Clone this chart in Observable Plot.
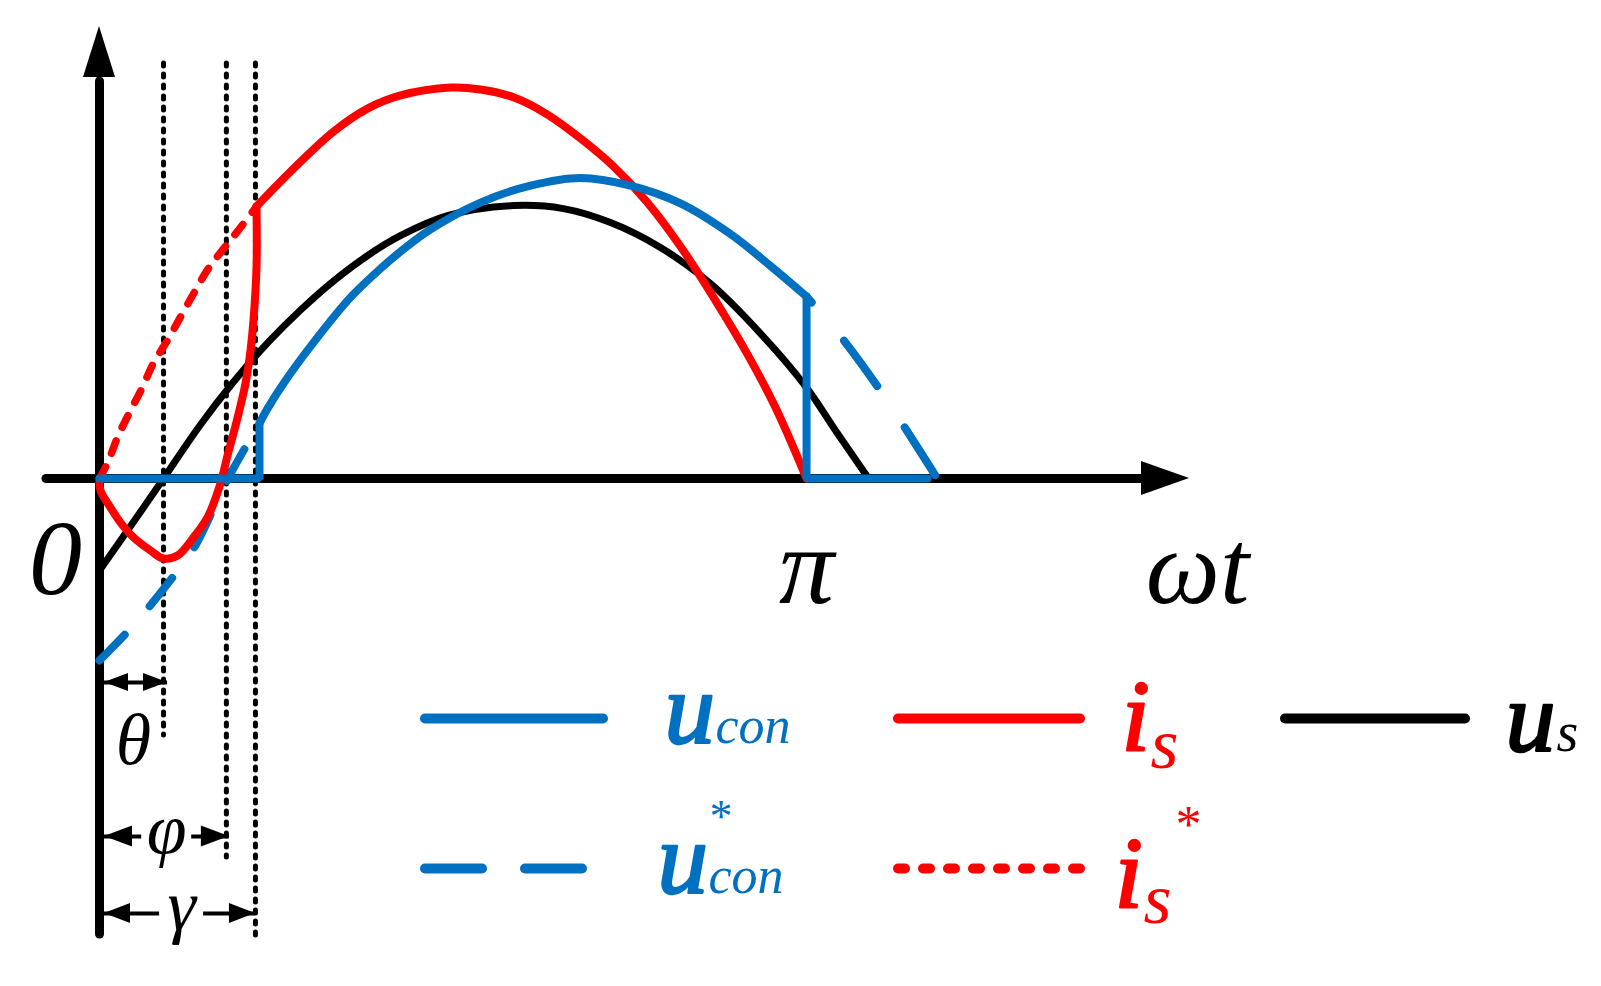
<!DOCTYPE html>
<html><head><meta charset="utf-8">
<script src="https://cdn.jsdelivr.net/npm/d3@7"></script>
<script src="https://cdn.jsdelivr.net/npm/@observablehq/plot@0.6"></script>
<style>html,body{margin:0;padding:0;background:#fff;overflow:hidden}</style>
</head><body><div id="chart"></div>
<script>
// ---- values: [ωt in degrees, amplitude (u_s peak = 1)] ----
const us = [[0,-0.336],[8.2,-0.168],[16.3,0],[25.7,0.196],[34.1,0.352],[42.8,0.495],[51.2,0.615],[59.6,0.721],[68.2,0.813],[76.6,0.886],[88.6,0.959],[105.4,0.996],[118.1,0.985],[130.1,0.934],[142.8,0.843],[155.5,0.712],[168.3,0.529],[180,0.332],[187.9,0.164],[195.8,0]];
const isLow = [[0,0],[0.25,-0.044],[2.8,-0.106],[5.35,-0.161],[8.66,-0.215],[12.98,-0.263],[16.29,-0.292],[19.86,-0.281],[23.93,-0.215],[27.49,-0.142],[30.8,-0.018],[32.59,0.084],[34.11,0.164],[35.9,0.266],[37.17,0.347],[38.44,0.467],[39.2,0.577],[39.97,0.770],[39.97,0.993]];
const isArc = [[39.97,0.993],[48.63,1.120],[59.57,1.266],[68.23,1.350],[76.63,1.398],[89.36,1.427],[97.0,1.420],[105.4,1.391],[114.05,1.328],[122.45,1.241],[130.85,1.139],[139.51,1.007],[147.91,0.847],[156.31,0.661],[164.97,0.453],[172.1,0.259],[180,0]];
const isRef = [[0,0],[2.0,0.055],[4.8,0.157],[7.9,0.248],[10.9,0.332],[13.7,0.420],[17.6,0.511],[21.1,0.602],[24.4,0.686],[27.7,0.766],[31.6,0.839],[35.9,0.916],[39.97,0.993]];
const uconArc = [[40.73,0.201],[42.77,0.255],[46.84,0.347],[55.5,0.515],[63.9,0.661],[71.54,0.766],[76.63,0.828],[84.27,0.909],[97.0,1.007],[109.73,1.069],[122.45,1.097],[135.18,1.069],[147.91,1.004],[160.64,0.892],[170.8,0.776],[180,0.664]];
const uconFlatL = [[0,0],[40.73,0],[40.73,0.201]];
const uconFlatR = [[180,0.664],[180,0],[210.8,0]];
const uconRefL = [[0,-0.664],[7.4,-0.555],[12.5,-0.471],[19.9,-0.336],[24.4,-0.245],[30.0,-0.080],[33.4,0.018],[37.4,0.120],[40.73,0.201]];
const uconRefR = [[180,0.664],[189.1,0.511],[198.8,0.321],[204.7,0.193],[213.3,0]];
// angles θ, φ, γ (degrees)
const angleNames = ["θ","φ","γ"];
const angleDeg = [16.3, 32.3, 39.7];
// tick labels
const tickLabels = ["0","π"];
const tickValues = [0, 180];
const axisTitle = "ωt";

// ---- layout (pixel geometry of the page) ----
const W = 1601, H = 986, X0 = 99, KX = 3.928, Y0 = 478, KY = 274;
const dx = p => p / KX, dy = p => p / KY;
const BLUE = "#0070C0", RED = "#FF0000";
const FONT = "'Liberation Serif','Times New Roman',serif";
const xA = d => d[0], yA = d => d[1];

// axis extent
const xAxis = {from: dx(46 - X0), base: dx(1141 - X0), tip: dx(1189 - X0), half: dy(17)};
const yAxis = {from: -dy(934 - Y0), base: dy(Y0 - 77), tip: dy(Y0 - 26), half: dx(16)};

// guides (dotted verticals) and dimension arrows
const guideTop = dy(Y0 - 63);
const guideBottom = [-dy(735 - Y0), -dy(857 - Y0), -dy(937 - Y0)];
const arrowY = [-dy(682 - Y0), -dy(836 - Y0), -dy(913 - Y0)];
const tipPad = [dx(4), dx(3), dx(0)];
const gapHalf = [0, dx(25), dx(22)];
const labelX = [8.66, 17.1, 20.9];
const labelY = [-dy(763 - Y0), -dy(852 - Y0), -dy(929 - Y0)];
const leftTip = dx(5);

const guides = angleDeg.map((a, i) => ({x: a, y1: guideTop, y2: guideBottom[i]}));
const dimSegs = [];
const heads = [];
const headL = [dx(24), dx(28), dx(26)], headH = [dy(9), dy(10.5), dy(10)];
angleDeg.forEach((a, i) => {
  const y = arrowY[i], r = a + tipPad[i];
  if (gapHalf[i] === 0) dimSegs.push({x1: leftTip, x2: r, y});
  else { dimSegs.push({x1: leftTip, x2: labelX[i] - gapHalf[i], y}); dimSegs.push({x1: labelX[i] + gapHalf[i], x2: r, y}); }
  heads.push({id: "l"+i, x: leftTip + headL[i], y1: y - headH[i], y2: y + headH[i]});
  heads.push({id: "l"+i, x: leftTip, y1: y, y2: y});
  heads.push({id: "r"+i, x: r - headL[i], y1: y - headH[i], y2: y + headH[i]});
  heads.push({id: "r"+i, x: r, y1: y, y2: y});
});
heads.push({id: "xa", x: xAxis.base, y1: -xAxis.half, y2: xAxis.half});
heads.push({id: "xa", x: xAxis.tip, y1: 0, y2: 0});
const yHead = [{y: yAxis.base, x1: -yAxis.half, x2: yAxis.half}, {y: yAxis.tip, x1: 0, x2: 0}];

// legend geometry
const legendRowY = [-dy(718 - Y0), -dy(868 - Y0)];
const legendLines = [
  {x1: dx(425 - X0), x2: dx(603 - X0), y: legendRowY[0], stroke: BLUE, dash: null},
  {x1: dx(898 - X0), x2: dx(1080 - X0), y: legendRowY[0], stroke: RED, dash: null},
  {x1: dx(1285 - X0), x2: dx(1465 - X0), y: legendRowY[0], stroke: "black", dash: null},
  {x1: dx(425 - X0), x2: dx(582 - X0), y: legendRowY[1], stroke: BLUE, dash: "57,43"},
  {x1: dx(898 - X0), x2: dx(1080 - X0), y: legendRowY[1], stroke: RED, dash: "7,18"}
];
// legend symbols: base letter, subscript, superscript (pixel placement)
const legendLabels = [
  {id: "§1", color: BLUE, parts: [{t: "u", px: 664, py: 742, size: 101, heavy: true}, {t: "con", px: 715, py: 742, size: 52}]},
  {id: "§2", color: BLUE, parts: [{t: "u", px: 657, py: 892, size: 101, heavy: true}, {t: "con", px: 708, py: 892, size: 52}, {t: "*", px: 709, py: 831, size: 46, style: "normal"}]},
  {id: "§3", color: RED, parts: [{t: "i", px: 1121, py: 750, size: 102, heavy: true}, {t: "s", px: 1150, py: 767, size: 72}]},
  {id: "§4", color: RED, parts: [{t: "i", px: 1114, py: 907, size: 102, heavy: true}, {t: "s", px: 1143, py: 922, size: 72}, {t: "*", px: 1175, py: 841, size: 52, style: "normal"}]},
  {id: "§5", color: "black", parts: [{t: "u", px: 1505, py: 750, size: 100, heavy: true}, {t: "s", px: 1556, py: 750, size: 56}]}
];

const plain = [
  {t: tickLabels[0], x: tickValues[0] - dx(44), y: -dy(593 - Y0), size: 106},
  {t: tickLabels[1], x: tickValues[1], y: -dy(602 - Y0), size: 110},
  {t: axisTitle, x: dx(1197 - X0), y: -dy(602 - Y0), size: 105},
  ...angleNames.map((n, i) => ({t: n, x: labelX[i], y: labelY[i], size: 72}))
];

const textMarks = [
  ...plain.map(d => Plot.text([d], {x: "x", y: "y", text: "t", fontSize: d.size, fontFamily: FONT, fontStyle: "italic", fill: "black", textAnchor: "middle", lineAnchor: "bottom"})),
  ...legendLabels.map(d => Plot.text([d], {
    x: () => dx(d.parts[0].px - X0), y: () => -dy(d.parts[0].py - Y0), text: "id",
    fontSize: d.parts[0].size, fontFamily: FONT, fontStyle: "italic",
    fill: d.color, textAnchor: "start", lineAnchor: "bottom"
  }))
];

const chart = Plot.plot({
  width: W, height: H, margin: 0,
  style: {background: "#fff", overflow: "visible"},
  x: {domain: [-X0 / KX, (W - X0) / KX], range: [0, W], axis: null},
  y: {domain: [-(H - Y0) / KY, Y0 / KY], range: [H, 0], axis: null},
  marks: [
    Plot.ruleX(guides, {x: "x", y1: "y1", y2: "y2", stroke: "black", strokeWidth: 5, strokeDasharray: "3,8", strokeLinecap: "round"}),
    Plot.ruleY([0], {x1: xAxis.from, x2: xAxis.base + dx(4), stroke: "black", strokeWidth: 9, strokeLinecap: "round"}),
    Plot.ruleX([0], {y1: yAxis.from, y2: yAxis.base - dy(4), stroke: "black", strokeWidth: 9, strokeLinecap: "round"}),
    Plot.line(us, {x: xA, y: yA, curve: "catmull-rom", stroke: "black", strokeWidth: 7}),
    Plot.line(uconRefL, {x: xA, y: yA, curve: "catmull-rom", stroke: BLUE, strokeWidth: 8, strokeDasharray: "36,38", strokeLinecap: "round"}),
    Plot.line(uconRefR, {x: xA, y: yA, curve: "catmull-rom", stroke: BLUE, strokeWidth: 8, strokeDasharray: "56,50", strokeDashoffset: 48, strokeLinecap: "round"}),
    Plot.line(isRef, {x: xA, y: yA, curve: "catmull-rom", stroke: RED, strokeWidth: 7.5, strokeDasharray: "13,15", strokeLinecap: "round"}),
    Plot.line(isLow, {x: xA, y: yA, curve: "catmull-rom", stroke: RED, strokeWidth: 8}),
    Plot.line(isArc, {x: xA, y: yA, curve: "catmull-rom", stroke: RED, strokeWidth: 8}),
    Plot.line(uconFlatL, {x: xA, y: yA, stroke: BLUE, strokeWidth: 8, strokeLinejoin: "miter"}),
    Plot.line(uconFlatR, {x: xA, y: yA, stroke: BLUE, strokeWidth: 8, strokeLinejoin: "miter"}),
    Plot.line(uconArc, {x: xA, y: yA, curve: "catmull-rom", stroke: BLUE, strokeWidth: 8, strokeLinecap: "round"}),
    Plot.ruleY(dimSegs, {x1: "x1", x2: "x2", y: "y", stroke: "black", strokeWidth: 4}),
    Plot.areaY(heads, {x: "x", y1: "y1", y2: "y2", z: "id", fill: "black"}),
    Plot.areaX(yHead, {y: "y", x1: "x1", x2: "x2", fill: "black"}),
    ...legendLines.map(d => Plot.ruleY([d], {x1: "x1", x2: "x2", y: "y", stroke: d.stroke, strokeWidth: 10, strokeLinecap: "round", strokeDasharray: d.dash || undefined})),
    ...textMarks
  ]
});
document.getElementById("chart").appendChild(chart);

// one text element per legend symbol, with sub/superscript tspans
const byId = new Map(legendLabels.map(d => [d.id, d]));
d3.select(chart).selectAll("text").each(function () {
  const d = byId.get(this.textContent);
  if (!d) return;
  const b = d.parts[0];
  const t = d3.select(this);
  t.text(null);
  d.parts.forEach(p => {
    const s = t.append("tspan")
      .attr("x", p.px - b.px).attr("y", p.py - b.py)
      .attr("font-size", p.size)
      .attr("font-style", p.style || "italic")
      .text(p.t);
    if (p.heavy) s.attr("stroke", d.color).attr("stroke-width", 2.5).attr("stroke-linejoin", "round");
  });
});
</script>
</body></html>
